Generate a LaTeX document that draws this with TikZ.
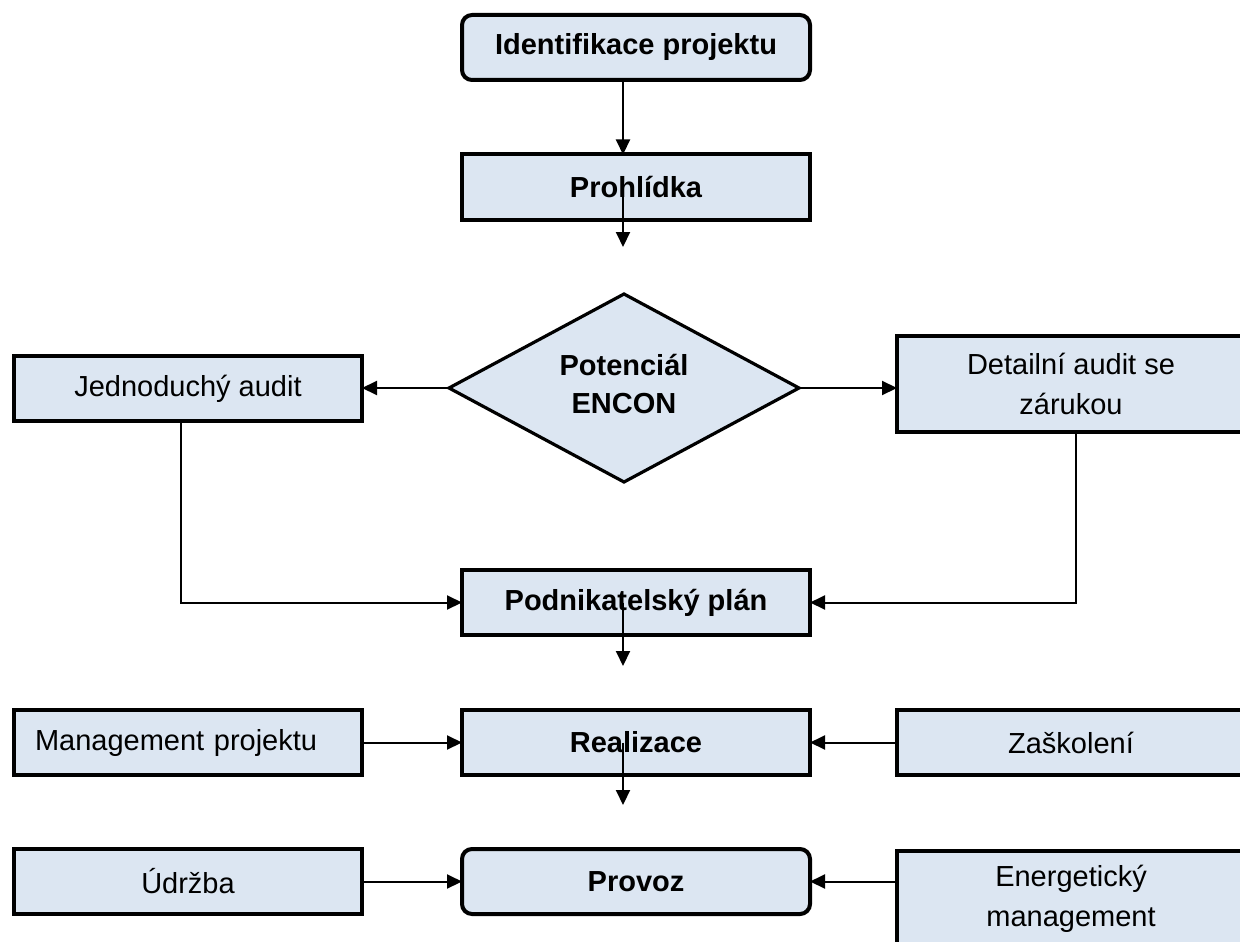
\documentclass[tikz,border=0pt]{standalone}
\usepackage{fontspec}
\setmainfont{Liberation Sans}
\usetikzlibrary{shapes.geometric,arrows.meta}
\definecolor{boxfill}{RGB}{220,230,242}
\tikzset{
  box/.style={draw, line width=2pt, fill=boxfill, minimum width=174pt, minimum height=32.5pt,
    inner sep=0pt, outer sep=0pt, align=center, font=\fontsize{14.5}{20}\selectfont},
  rbox/.style={box, rounded corners=5pt},
  bbox/.style={box, font=\fontsize{14.5}{20}\selectfont\bfseries},
  rbbox/.style={bbox, rounded corners=5pt},
  decision/.style={diamond, draw, line width=1.6pt, fill=boxfill, minimum width=175pt,
    minimum height=94pt, inner sep=0pt, outer sep=0pt},
  dtext/.style={inner sep=0pt, align=center, font=\fontsize{14.5}{19}\selectfont\bfseries},
  arr/.style={line width=1pt, -{Triangle[length=7.5pt,width=7pt]}}
}
\begin{document}
\begin{tikzpicture}[x=0.5pt,y=-0.5pt]
\useasboundingbox (0,0) rectangle (1240,941);
% main column
\node[rbbox] (ident) at (636,47.5) {Identifikace projektu};
\node[bbox] (prohl) at (636,187) {Prohlídka};
\node[decision] (pot) at (624,388) {};
\node[dtext] (pottext) at ([yshift=2pt]pot.center) {Potenciál\\ENCON};
\node[bbox] (podn) at (636,602.5) {Podnikatelský plán};
\node[bbox] (real) at (636,742.5) {Realizace};
\node[rbbox] (prov) at (636,881.5) {Provoz};
% left column
\node[box] (jedn) at (188,388.5) {Jednoduchý audit};
\node[box, text width=153pt, align=left, inner xsep=10.5pt] (mgmt) at (188,742.5) {Management projektu};
\node[box] (udrz) at (188,881.5) {Údržba};
% right column
\node[box, minimum height=48pt] (det) at (1071,384) {Detailní audit se\\zárukou};
\node[box] (zask) at (1071,742.5) {Zaškolení};
\node[box, minimum height=48pt] (energ) at (1071,899) {Energetický\\management};
% helper coordinates
\coordinate (ax) at (623,0);
\coordinate (lx) at (181,0);
\coordinate (rx) at (1076,0);
\coordinate (e1) at (623,247);
\coordinate (e2) at (623,666);
\coordinate (e3) at (623,805);
% connectors
\draw[arr] (ident.south -| ax) -- (prohl.north -| ax);
\draw[arr] (prohl.center -| ax) -- (e1);
\draw[arr] (pot.west) -- (pot.west -| jedn.east);
\draw[arr] (pot.east) -- (pot.east -| det.west);
\draw[arr] (jedn.south -| lx) |- (podn.west);
\draw[arr] (det.south -| rx) |- (podn.east);
\draw[arr] (podn.center -| ax) -- (e2);
\draw[arr] (mgmt.east) -- (real.west);
\draw[arr] (zask.west) -- (real.east);
\draw[arr] (real.center -| ax) -- (e3);
\draw[arr] (udrz.east) -- (prov.west);
\draw[arr] (energ.west |- prov.east) -- (prov.east);
\end{tikzpicture}
\end{document}
